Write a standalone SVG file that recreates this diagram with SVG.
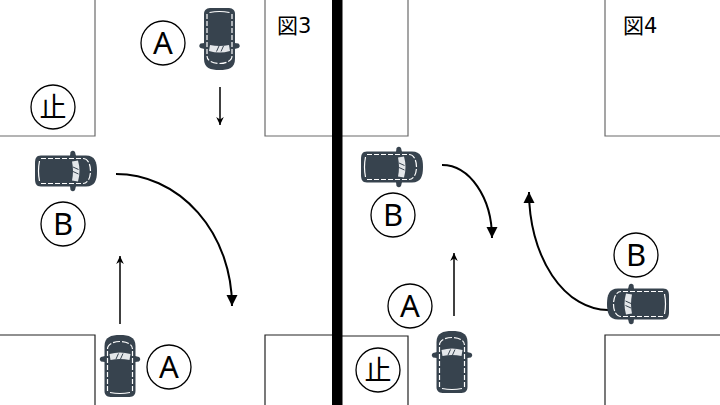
<svg xmlns="http://www.w3.org/2000/svg" xmlns:xlink="http://www.w3.org/1999/xlink" width="720" height="405" viewBox="0 0 720 405">
<style>
  .blk{fill:none;stroke:#6a6a6a;stroke-width:1.2}
  .blkd{fill:none;stroke:#222;stroke-width:1.2}
  .lbl circle{fill:#fff;stroke:#000;stroke-width:1.3}
  .lbl text{font-family:'Noto Sans','Noto Sans CJK JP',sans-serif;font-size:31px;text-anchor:middle;fill:#000}
  .lbl text.cjk{font-size:27px}
  .fig{font-family:'DejaVu Sans','Noto Sans CJK JP',sans-serif;font-size:21px;fill:#000}
  .st{fill:none;stroke:#000;stroke-width:1.5}
  .cv{fill:none;stroke:#000;stroke-width:2}
  .carbody{fill:#37434e}
  .carw{fill:none;stroke:#fff;stroke-width:1.2}
</style>
<defs>
  <marker id="hs" markerUnits="userSpaceOnUse" markerWidth="12" markerHeight="12" viewBox="-10 -6 12 12" refX="0" refY="0" orient="auto">
    <path d="M0,0 L-8,-3.8 L-5.5,0 L-8,3.8 Z" fill="#000"/>
  </marker>
  <marker id="hc" markerUnits="userSpaceOnUse" markerWidth="14" markerHeight="14" viewBox="-12 -7 14 14" refX="0" refY="0" orient="auto">
    <path d="M0,0 L-11,-5.5 L-11,5.5 Z" fill="#000"/>
  </marker>
  <g id="car">
    <path class="carbody" d="M-15.5,-20 C-15.5,-29 -9,-31 0,-31 C9,-31 15.5,-29 15.5,-20 L15.5,25 C15.5,30 12,31 8,31 L-8,31 C-12,31 -15.5,30 -15.5,25 Z"/>
    <path class="carbody" d="M-15,-10 L-19,-9 Q-21.5,-7 -19,-4.5 L-15,-4 Z M15,-10 L19,-9 Q21.5,-7 19,-4.5 L15,-4 Z"/>
    <path class="carw" stroke-dasharray="7 2" d="M-12.5,-17 C-12.5,-27 12.5,-27 12.5,-17"/>
    <path class="carw" stroke-dasharray="5 2" d="M-12.5,-15 L-12.5,25 M12.5,-15 L12.5,25"/>
    <path d="M-10.5,-12 Q0,-15 10.5,-12 L9.5,-6 Q0,-8 -9.5,-6 Z" fill="#e4e7ea"/>
    <path d="M-4,-7 L-1.5,-12.5 M0.5,-7 L3,-12.5" stroke="#37434e" stroke-width="1"/>
    <path class="carw" d="M-10,26.5 Q0,28.5 10,26.5"/>
  </g>
</defs>
<rect width="720" height="405" fill="#fff"/>

<g id="blocks">
  <path class="blk" d="M95,0 V136 H0"/>
  <path class="blk" d="M265,0 V136 H332"/>
  <path class="blkd" d="M0,335 H95 V405"/>
  <path class="blkd" d="M332,335 H265 V405"/>
  <path class="blk" d="M408,0 V136 H342"/>
  <path class="blk" d="M605,0 V136 H720"/>
  <path class="blkd" d="M342,336 H408 V405"/>
  <path class="blkd" d="M720,335 H605 V405"/>
</g>
<rect id="divider" x="332" y="0" width="10.5" height="405" fill="#000"/>

<g id="connectors">
  <path class="st" d="M220,87 V125" marker-end="url(#hs)"/>
  <path class="st" d="M120,324 V256" marker-end="url(#hs)"/>
  <path class="cv" d="M116,174 A116,132 0 0 1 232,306" marker-end="url(#hc)"/>
  <path class="st" d="M454,316 V253" marker-end="url(#hs)"/>
  <path class="cv" d="M442,165 A50,73 0 0 1 492,238" marker-end="url(#hc)"/>
  <path class="cv" d="M608,310 A79,118 0 0 1 529,192" marker-end="url(#hc)"/>
</g>

<g id="car-A3-top"><use xlink:href="#car" href="#car" transform="translate(219.5,39) rotate(180)"/></g>
<g id="car-B3"><use xlink:href="#car" href="#car" transform="translate(66,171) rotate(90)"/></g>
<g id="car-A3-bottom"><use xlink:href="#car" href="#car" transform="translate(120,366)"/></g>
<g id="car-B4-left"><use xlink:href="#car" href="#car" transform="translate(392,167) rotate(90)"/></g>
<g id="car-B4-right"><use xlink:href="#car" href="#car" transform="translate(638,304) rotate(-90)"/></g>
<g id="car-A4"><use xlink:href="#car" href="#car" transform="translate(452,362)"/></g>

<g id="label-A3-top" class="lbl"><circle cx="163" cy="43" r="22"/><text x="163" y="54">A</text></g>
<g id="label-stop3" class="lbl"><circle cx="53" cy="107" r="22"/><text class="cjk" x="53" y="117">止</text></g>
<g id="label-B3" class="lbl"><circle cx="63" cy="224" r="22"/><text x="63" y="235">B</text></g>
<g id="label-A3-bottom" class="lbl"><circle cx="169" cy="367" r="22"/><text x="169" y="378">A</text></g>
<g id="label-B4-left" class="lbl"><circle cx="393" cy="215" r="22"/><text x="393" y="226">B</text></g>
<g id="label-A4" class="lbl"><circle cx="410" cy="306" r="22"/><text x="410" y="317">A</text></g>
<g id="label-stop4" class="lbl"><circle cx="378" cy="370" r="22"/><text class="cjk" x="378" y="380">止</text></g>
<g id="label-B4-right" class="lbl"><circle cx="636" cy="255" r="22"/><text x="636" y="266">B</text></g>

<text id="fig3" class="fig" x="277" y="33">図3</text>
<text id="fig4" class="fig" x="623" y="33">図4</text>
</svg>
